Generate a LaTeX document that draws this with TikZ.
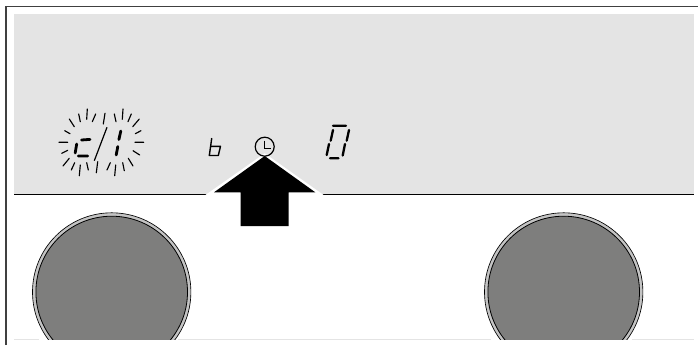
\documentclass[tikz,border=0pt]{standalone}
\definecolor{panel}{HTML}{E4E4E4}
\definecolor{knob}{HTML}{7E7E7D}
\definecolor{rimc}{HTML}{C4C4C4}
\tikzset{x=1pt,y=-1pt,
  frameline/.style={draw=black!75,line width=1.6pt},
  seg/.style={line width=2.3pt,line cap=round,black},
  fatseg/.style={line width=2.8pt,line cap=round,black},
  thinseg/.style={line width=1.4pt,line cap=round,line join=round,black},
  ray/.style={line width=1.15pt,line cap=round,black},
}
\begin{document}
\begin{tikzpicture}
\useasboundingbox (0,0) rectangle (698,345);
\fill[white] (0,0) rectangle (698,345);
\fill[panel] (14,14) rectangle (694,194);
\coordinate (tl) at (6,6.7); \coordinate (tr) at (698,6.7); \coordinate (bl) at (6,345);
\draw[frameline] (bl) -- (tl) -- (tr);
\coordinate (ml) at (14,194.7); \coordinate (mr) at (693.5,194.7);
\draw[black,line width=1.2pt] (ml) -- (mr);
% faint bottom line
\draw[panel,line width=.9pt] (14,339.3) -- (39,339.3) (178,339.3) -- (491,339.3) (632,339.3) -- (694,339.3);
% knobs
\begin{scope}
\clip (0,200) rectangle (698,339);
\foreach \cx in {111.7,563.7}{
 \fill[rimc] (\cx,292) circle (79.2);
 \draw[black,line width=.65pt] (\cx,292) circle (79.2);
 \draw[black,fill=knob,line width=.8pt] (\cx,292) circle (75.8);
}
\end{scope}
% arrow
\fill[white] (204,196) -- (264.7,153.3) -- (325,196) -- cycle;
\fill[black] (214,192.3) -- (264.7,156) -- (315.3,192.3) -- (288.7,192.3) -- (288.7,226) -- (240.7,226) -- (240.7,192.3) -- cycle;
% clock
\node[circle,draw=black,line width=1.2pt,minimum size=19pt,inner sep=0pt] (clock) at (264.7,146.7) {};
\draw[black,line width=1.2pt] (264.7,140.7) -- (264.7,148.3) -- (271,148.3);
% b
\draw[thinseg] (211.7,138.5) -- (209.3,155.5) -- (218.3,155.5) -- (220.5,146.3) -- (210.7,146.3);
% 0 digit
\draw[seg] (333,125.7) -- (346,125.7) (333,130) -- (330.7,140.7) (349,130) -- (346.7,140.7)
 (329,144) -- (326.7,155) (345,144) -- (342.7,155.5) (330,158.3) -- (338.5,158.3);
% c
\draw[fatseg] (81.5,140) -- (90,139.4) (76.7,144) -- (75.2,153) (78.3,156) -- (87.8,156);
% slash
\draw[line width=1.2pt,black] (107,127.3) -- (94.3,160.7);
% 1
\draw[fatseg] (120.8,131) -- (118.9,139.5) (117.8,146.5) -- (116.2,155);
% rays
\draw[ray] (59,142.3)--(67.7,142.3) (64.7,130.7)--(70,133.7) (69.3,119)--(74.3,126.7) (78.7,114)--(80.3,121.7) (87.3,109)--(86.7,119.3) (95.7,114)--(92.3,121.7) (105,113.3)--(103.3,124)
 (114.3,114)--(116,121.7) (123,109)--(122.3,119.3) (131.3,114)--(128,121.7) (139.3,119)--(132.7,126.7) (141,130.7)--(135.3,133.7) (135,142.3)--(143.7,142.3)
 (139.7,155)--(133,150.7) (133,166)--(128.3,158.3) (124.3,170.7)--(122.7,162.7) (114.7,175.7)--(115.7,165) (107,170)--(110.3,162.7) (96.3,172.7)--(97.7,161.7) (88.3,170)--(86.7,162.7) (79.3,175.7)--(80.3,165) (71.3,170)--(74.7,162.7) (63,166)--(69.3,158.3) (61.7,153.3)--(67.7,150.3);
\end{tikzpicture}
\end{document}
